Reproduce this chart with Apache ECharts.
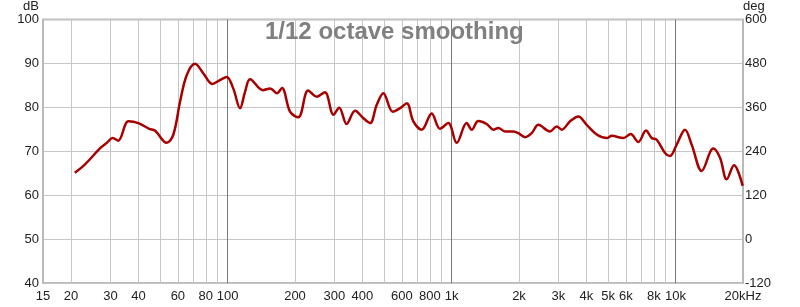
<!DOCTYPE html>
<html>
<head>
<meta charset="utf-8">
<script src="https://cdn.jsdelivr.net/npm/echarts@6/dist/echarts.min.js"></script>
<style>
html,body{margin:0;padding:0;background:#fff;}
#chart{width:800px;height:307px;}
</style>
</head>
<body>
<div id="chart"></div>
<script>
// Frequency (Hz) and SPL (dB)
const freqs = [20.8, 23.1, 27.0, 28.9, 30.7, 32.5, 36.1, 40.0, 44.7, 47.4, 53.5, 57.3, 61.4, 65.7, 71.6, 78.0, 85.5, 92.5, 99.1, 106, 113.7, 119.7, 126, 144, 155, 166, 175, 190, 207, 229, 250, 272, 297, 315, 340, 371, 404, 433, 463, 496, 546, 589, 631, 675, 736, 815, 888, 967, 1054, 1168, 1230, 1316, 1435, 1536, 1617, 1733, 1887, 1987, 2128, 2279, 2439, 2750, 2946, 3103, 3380, 3680, 4010, 4447, 4928, 5188, 5846, 6304, 6819, 7380, 7826, 8240, 8973, 9440, 10117, 11020, 11800, 13085, 14730, 15790, 16915, 18230, 19940];
const spl = [65.1, 67.0, 70.7, 71.9, 73.0, 72.4, 76.8, 76.4, 75.1, 74.7, 71.9, 73.8, 81.3, 87.3, 89.9, 87.7, 85.3, 86.2, 86.9, 84.3, 79.8, 83.5, 86.4, 83.9, 84.3, 83.2, 84.4, 79.0, 77.7, 83.8, 82.4, 83.4, 78.3, 79.9, 76.2, 79.2, 77.5, 76.4, 80.5, 83.2, 79.0, 79.8, 80.9, 76.8, 74.9, 78.6, 75.1, 76.4, 71.9, 76.4, 74.9, 76.9, 76.2, 74.9, 75.3, 74.5, 74.5, 74.1, 73.2, 74.1, 76.0, 74.5, 75.6, 74.9, 76.8, 77.9, 76.0, 73.8, 73.0, 73.5, 73.0, 73.9, 72.1, 74.7, 73.0, 72.6, 69.6, 68.9, 71.5, 74.9, 71.5, 65.5, 70.6, 68.5, 63.6, 66.8, 62.1];

// Axis ticks
const xLabelValues = [15, 20, 30, 40, 60, 80, 100, 200, 300, 400, 600, 800, 1000, 2000, 3000, 4000, 5000, 6000, 8000, 10000, 20000];
const xGridValues = [20, 30, 40, 50, 60, 70, 80, 90, 100, 200, 300, 400, 500, 600, 700, 800, 900, 1000, 2000, 3000, 4000, 5000, 6000, 7000, 8000, 9000, 10000];
const xDecadeLines = [100, 1000, 10000];
const titleText = '1/12 octave smoothing';

const seriesData = freqs.map((f, i) => [f, spl[i]]);

const chart = echarts.init(document.getElementById('chart'), null, {renderer: 'canvas'});
const font = 'Liberation Sans, Arial, sans-serif';

function fmtFreq(v) {
  const r = Math.round(v);
  if (r === 20000) return '20kHz';
  if (r >= 1000) return (r / 1000) + 'k';
  return String(r);
}

chart.setOption({
  animation: false,
  backgroundColor: '#ffffff',
  title: {
    text: titleText,
    left: 265,
    top: 20,
    padding: 0,
    textStyle: {color: '#808080', fontSize: 24, fontWeight: 'bold', fontFamily: font}
  },
  grid: {
    left: 43, right: 57, top: 17, bottom: 24,
    show: true, borderColor: '#b9b9b9', borderWidth: 2, backgroundColor: 'transparent'
  },
  xAxis: {
    type: 'log', logBase: 10, min: 15, max: 20000,
    axisLine: {show: false},
    axisTick: {show: false, customValues: xGridValues},
    axisLabel: {
      customValues: xLabelValues, formatter: fmtFreq, margin: 7,
      color: '#222', fontSize: 13, fontFamily: font,
      showMinLabel: true, showMaxLabel: true, hideOverlap: false
    },
    splitLine: {show: true, lineStyle: {color: '#c6c6c6', width: 1}}
  },
  yAxis: [
    {
      type: 'value', min: 40, max: 100, interval: 10, position: 'left',
      name: 'dB', nameLocation: 'end', nameGap: 3,
      nameTextStyle: {color: '#222', fontSize: 13, fontFamily: font, align: 'right', padding: [0, 4, 0, 0]},
      axisLine: {show: false}, axisTick: {show: false},
      axisLabel: {color: '#222', fontSize: 13, fontFamily: font, margin: 4},
      splitLine: {show: true, lineStyle: {color: '#c6c6c6', width: 1}}
    },
    {
      type: 'value', min: -120, max: 600, interval: 120, position: 'right',
      name: 'deg', nameLocation: 'end', nameGap: 3,
      nameTextStyle: {color: '#222', fontSize: 13, fontFamily: font, align: 'left', padding: [0, 0, 0, 0]},
      axisLine: {show: false}, axisTick: {show: false},
      axisLabel: {color: '#222', fontSize: 13, fontFamily: font, margin: 2},
      splitLine: {show: false}
    }
  ],
  series: [
    {
      type: 'line', data: [], z: 1, silent: true,
      markLine: {
        silent: true, symbol: ['none', 'none'], animation: false,
        label: {show: false},
        lineStyle: {color: '#7a7a7a', width: 1, type: 'solid'},
        data: xDecadeLines.map(v => ({xAxis: v}))
      }
    },
    {
      type: 'line', data: seriesData, z: 5,
      smooth: 0.35, showSymbol: false, symbol: 'none',
      lineStyle: {color: '#a80000', width: 2.5},
      clip: true
    }
  ]
});
</script>
</body>
</html>
